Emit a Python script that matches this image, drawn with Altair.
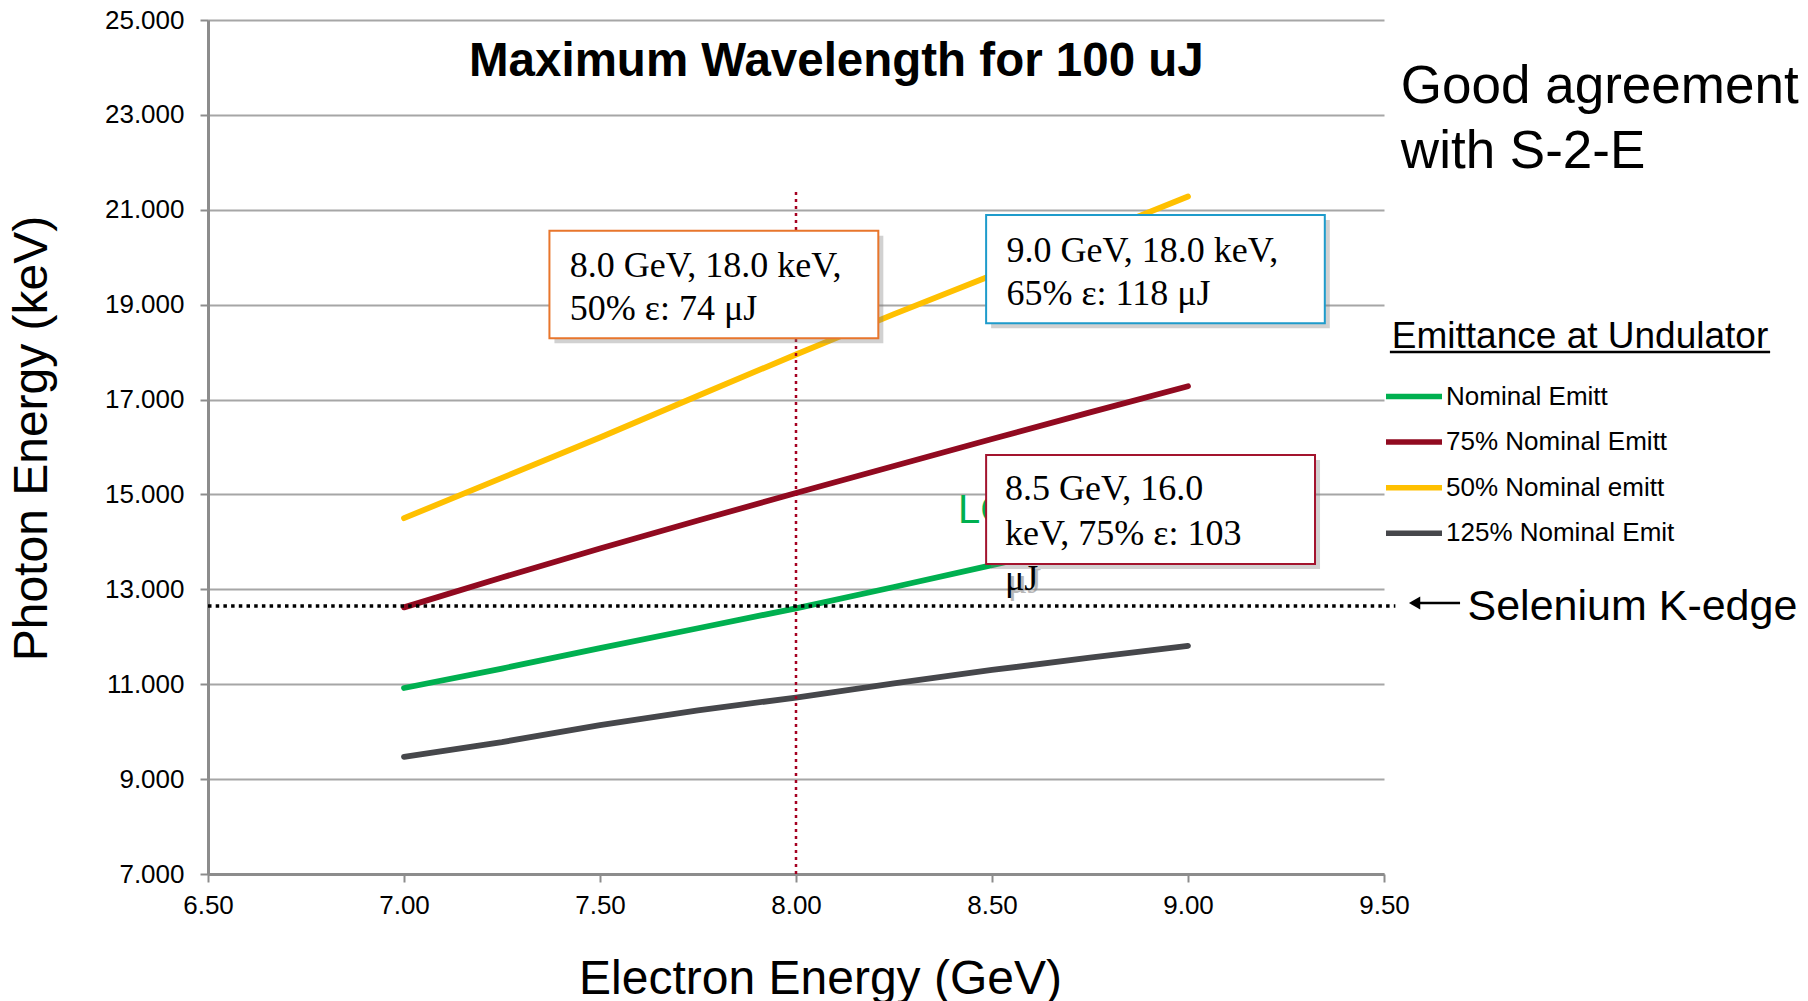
import altair as alt
import pandas as pd

# ---------------- data ----------------
electron_energy = [7.0, 7.25, 7.5, 7.75, 8.0, 8.25, 8.5, 8.75, 9.0]
series_names = ["Nominal Emitt", "75% Nominal Emitt", "50% Nominal emitt", "125% Nominal Emit"]
nominal_emitt = [10.92, 11.33, 11.76, 12.18, 12.60, 13.05, 13.51, 13.97, 14.43]
emitt_75 = [12.62, 13.25, 13.86, 14.45, 15.03, 15.60, 16.17, 16.73, 17.28]
emitt_50 = [14.50, 15.35, 16.20, 17.08, 17.95, 18.80, 19.62, 20.45, 21.28]
emitt_125 = [9.47, 9.78, 10.14, 10.45, 10.72, 11.02, 11.30, 11.56, 11.81]
series_colors = ["#00B050", "#910A20", "#FFC000", "#46474B"]

x_ticks = [6.5, 7.0, 7.5, 8.0, 8.5, 9.0, 9.5]
y_ticks = [7, 9, 11, 13, 15, 17, 19, 21, 23, 25]

se_kedge = 12.65          # Selenium K-edge (keV)
marked_energy = 8.0       # GeV
marked_top = 21.41

box_texts = ["8.0 GeV, 18.0 keV,\n50% \u03b5: 74 \u03bcJ",
             "9.0 GeV, 18.0 keV,\n65% \u03b5: 118 \u03bcJ",
             "8.5 GeV, 16.0\nkeV, 75% \u03b5: 103\n\u03bcJ"]
box_colors = ["#E8762C", "#1E9BCB", "#A3142E"]

# ------------- annotation layout (data coordinates) -------------
box_left = [7.371, 8.485, 8.485]
box_right = [8.210, 9.349, 9.324]
box_top = [20.559, 20.890, 15.830]
box_bottom = [18.291, 18.607, 13.533]
text_x = [7.423, 8.537, 8.533]
text_y = [19.589, 19.905, 14.882]
text_lh = [43.5, 43.5, 45]

rows = []
for name, vals in zip(series_names, [nominal_emitt, emitt_75, emitt_50, emitt_125]):
    for e, p in zip(electron_energy, vals):
        rows.append({"series": name, "E": e, "P": p})
df = pd.DataFrame(rows)

W, H = 1176, 854
FONT = "Liberation Sans"
SERIF = "Liberation Serif"

x_scale = alt.Scale(domain=[6.5, 9.5], nice=False, zero=False)
y_scale = alt.Scale(domain=[7, 25], nice=False, zero=False)

x_axis = alt.Axis(values=x_ticks, format=".2f", title="Electron Energy (GeV)",
                  titleFont=FONT, titleFontSize=48, titleFontWeight="normal", titleColor="#000",
                  titleX=612, titleY=119, titleAlign="center", titleBaseline="alphabetic",
                  labelFont=FONT, labelFontSize=26, labelColor="#000", labelPadding=10,
                  labelFlush=False,
                  tickSize=8, tickColor="#8C8C8C", tickWidth=2,
                  domainColor="#8C8C8C", domainWidth=3, grid=False)
y_axis = alt.Axis(values=y_ticks, format=".3f", title="Photon Energy (keV)",
                  titleFont=FONT, titleFontSize=48, titleFontWeight="normal", titleColor="#000",
                  titleAngle=270, titleX=-176, titleY=418, titleAlign="center", titleBaseline="middle",
                  labelFont=FONT, labelFontSize=26, labelColor="#000", labelPadding=16,
                  labelFlush=False,
                  tickSize=8, tickColor="#8C8C8C", tickWidth=2,
                  domainColor="#8C8C8C", domainWidth=3,
                  grid=True, gridColor="#A6A6A6", gridWidth=2)


def X(f="E"):
    return alt.X(f"{f}:Q", scale=x_scale, axis=x_axis)


def Y(f="P"):
    return alt.Y(f"{f}:Q", scale=y_scale, axis=y_axis)


lines = alt.Chart(df).mark_line(strokeWidth=5.8, strokeCap="round", strokeJoin="round").encode(
    x=X(), y=Y(),
    color=alt.Color("series:N",
                    scale=alt.Scale(domain=series_names, range=series_colors),
                    legend=alt.Legend(title=None, orient="none", legendX=1175, legendY=345.5,
                                      symbolType="stroke", symbolSize=3136, symbolStrokeWidth=5.5,
                                      labelFont=FONT, labelFontSize=26, labelColor="#000",
                                      labelOffset=1, rowPadding=1.6, padding=0,
                                      direction="vertical", labelLimit=500)),
    detail="series:N",
)

# vertical marker at 8 GeV
vline = alt.Chart(pd.DataFrame({"E": [marked_energy], "P": [7.0], "P2": [marked_top]})).mark_rule(
    color="#A50021", strokeWidth=2.5, strokeDash=[3, 4]).encode(x=X(), y=Y(), y2="P2:Q")

# Selenium K-edge line
seline = alt.Chart(pd.DataFrame({"E": [6.5], "E2": [9.529], "P": [se_kedge]})).mark_rule(
    color="#000", strokeWidth=3.5, strokeDash=[3.5, 4.2]).encode(x=X(), x2="E2:Q", y=Y())

arrow_line = alt.Chart(pd.DataFrame({"E": [9.575], "E2": [9.694], "P": [12.71]})).mark_rule(
    color="#000", strokeWidth=2.5).encode(x=X(), x2="E2:Q", y=Y())
arrow_head = alt.Chart(pd.DataFrame({"E": [9.578], "P": [12.71]})).mark_point(
    shape="triangle-left", filled=True, color="#000", size=170, opacity=1).encode(x=X(), y=Y())
se_text = alt.Chart(pd.DataFrame({"E": [9.713], "P": [12.352], "t": ["Selenium K-edge"]})).mark_text(
    font=FONT, fontSize=43, align="left", baseline="alphabetic", color="#000").encode(
    x=X(), y=Y(), text="t:N")

lcls = alt.Chart(pd.DataFrame({"E": [8.413], "P": [14.397], "t": ["LCLS"]})).mark_text(
    font=FONT, fontSize=40, align="left", baseline="alphabetic", color="#00B050").encode(
    x=X(), y=Y(), text="t:N")

boxes_df = pd.DataFrame({"E": box_left, "E2": box_right, "P": box_bottom, "P2": box_top,
                         "c": box_colors, "tx": text_x, "ty": text_y, "t": box_texts})

layers = [lines, vline, seline, lcls]
for i in range(3):
    b = boxes_df.iloc[[i]]
    shadow = alt.Chart(b).mark_rect(fill="#7A7A7A", opacity=0.35, xOffset=5, yOffset=5,
                                    x2Offset=5, y2Offset=5).encode(
        x=X(), x2="E2:Q", y=Y(), y2="P2:Q")
    tdf = pd.DataFrame({"E": [text_x[i]], "P": [text_y[i]], "t": [box_texts[i]]})
    tshadow = alt.Chart(tdf).mark_text(font=SERIF, fontSize=36, align="left", baseline="alphabetic",
                                       lineBreak="\n", lineHeight=text_lh[i], color="#8A8A8A",
                                       opacity=0.6, dx=3, dy=3).encode(x=X(), y=Y(), text="t:N")
    box = alt.Chart(b).mark_rect(fill="#FFFFFF", stroke=box_colors[i], strokeWidth=2).encode(
        x=X(), x2="E2:Q", y=Y(), y2="P2:Q")
    txt = alt.Chart(tdf).mark_text(font=SERIF, fontSize=36, align="left", baseline="alphabetic",
                                   lineBreak="\n", lineHeight=text_lh[i], color="#000").encode(
        x=X(), y=Y(), text="t:N")
    layers += [shadow, tshadow, box, txt]

title = alt.Chart(pd.DataFrame({"E": [8.103], "P": [23.81], "t": ["Maximum Wavelength for 100 uJ"]})).mark_text(
    font=FONT, fontSize=47.5, fontWeight="bold", align="center", baseline="alphabetic", color="#000").encode(
    x=X(), y=Y(), text="t:N")

good = alt.Chart(pd.DataFrame({"E": [9.543], "P": [23.245], "t": ["Good agreement\nwith S-2-E"]})).mark_text(
    font=FONT, fontSize=53, align="left", baseline="alphabetic", lineBreak="\n", lineHeight=65,
    color="#000").encode(x=X(), y=Y(), text="t:N")

leg_title = alt.Chart(pd.DataFrame({"E": [9.520], "P": [18.086], "t": ["Emittance at Undulator"]})).mark_text(
    font=FONT, fontSize=37, align="left", baseline="alphabetic", color="#000").encode(
    x=X(), y=Y(), text="t:N")
leg_under = alt.Chart(pd.DataFrame({"E": [9.515], "E2": [10.485], "P": [18.0]})).mark_rule(
    color="#000", strokeWidth=2.5).encode(x=X(), x2="E2:Q", y=Y())

layers += [arrow_line, arrow_head, se_text, title, good, leg_title, leg_under]

chart = alt.layer(*layers).properties(
    width=W, height=H,
    autosize=alt.AutoSizeParams(type="none"),
    padding={"left": 208, "top": 20, "right": 424, "bottom": 127},
    background="#FFFFFF",
).configure_view(strokeWidth=0)

chart.save("out.html", embed_options={"renderer": "svg", "actions": False})
